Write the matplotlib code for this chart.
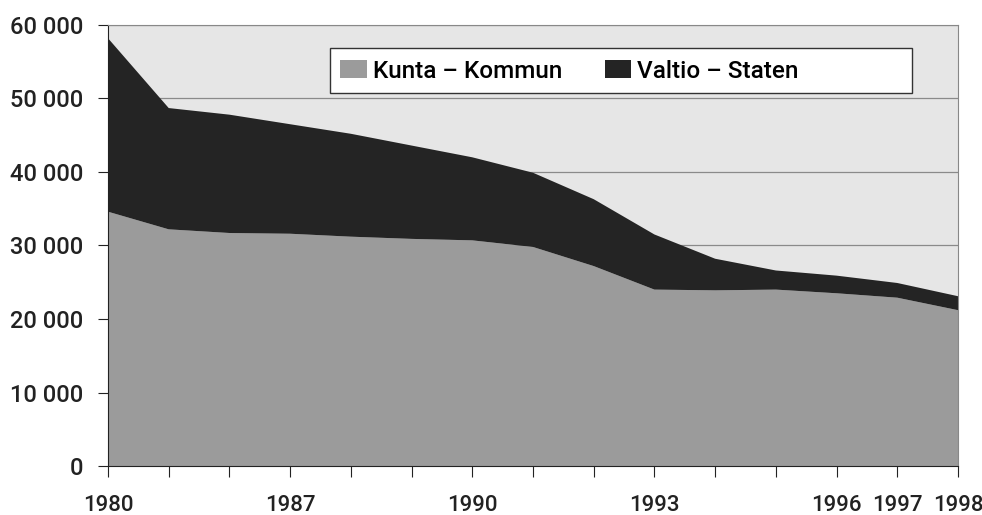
import numpy as np
import matplotlib
matplotlib.use('Agg')
import matplotlib.pyplot as plt
from matplotlib.patches import Rectangle, Patch

plt.rcParams['font.family'] = ['Roboto', 'DejaVu Sans']
plt.rcParams['font.weight'] = 'medium'

# data
years = [1980, 1985, 1986, 1987, 1988, 1989, 1990, 1991, 1992, 1993, 1994, 1995, 1996, 1997, 1998]
shown_years = [1980, 1987, 1990, 1993, 1996, 1997, 1998]
kunta = [34600, 32200, 31700, 31600, 31200, 30900, 30700, 29800, 27200, 24000, 23900, 24000, 23500, 22900, 21200]
total = [58200, 48700, 47800, 46500, 45200, 43600, 42000, 39900, 36300, 31500, 28200, 26600, 25900, 24900, 23100]
valtio = [t - k for t, k in zip(total, kunta)]
y_ticks = [0, 10000, 20000, 30000, 40000, 50000, 60000]
labels = ['Kunta – Kommun', 'Valtio – Staten']

c_kunta = '#9b9b9b'
c_valtio = '#242424'
c_bg = '#e6e6e6'

fig = plt.figure(figsize=(9.82, 5.15), dpi=100)
ax = fig.add_axes([108 / 982, 49 / 515, 850 / 982, 441 / 515])
ax.set_facecolor(c_bg)

x = np.arange(len(years))
ax.stackplot(x, kunta, valtio, colors=[c_kunta, c_valtio], linewidth=0)

ax.set_xlim(0, len(years) - 1)
ax.set_ylim(0, 60000)
ax.set_yticks(y_ticks)
ax.set_yticklabels([f'{v:,}'.replace(',', ' ') for v in y_ticks])
ax.set_xticks(x)
ax.set_xticklabels([str(y) if y in shown_years else '' for y in years])

ax.set_axisbelow(True)
ax.grid(axis='y', color='#8a8a8a', linewidth=0.9)
ax.tick_params(axis='y', length=7, width=0.8, pad=11, labelsize=17, colors='#222222')
ax.tick_params(axis='x', length=8, width=0.8, pad=13, labelsize=16, colors='#222222')
for t in ax.get_xticklines():
    t.set_color('#777777')
for t in ax.get_yticklines():
    t.set_color('#777777')

ax.spines['left'].set_color('#222222')
ax.spines['bottom'].set_color('#222222')
ax.spines['top'].set_color('#888888')
ax.spines['right'].set_color('#888888')

# legend box
box = Rectangle((0.261, 0.846), 0.685, 0.102, transform=ax.transAxes,
                facecolor='white', edgecolor='#333333', linewidth=1, zorder=4)
ax.add_patch(box)
handles = [Patch(facecolor=c_kunta, label=labels[0]), Patch(facecolor=c_valtio, label=labels[1])]
leg = ax.legend(handles=handles, ncol=2, frameon=False, loc='center left',
                bbox_to_anchor=(0.273, 0.895), fontsize=17.5, handlelength=1.1,
                handleheight=0.75, handletextpad=0.25, columnspacing=1.75,
                borderaxespad=0, borderpad=0)
leg.set_zorder(5)

fig.savefig('out.png', dpi=100)
